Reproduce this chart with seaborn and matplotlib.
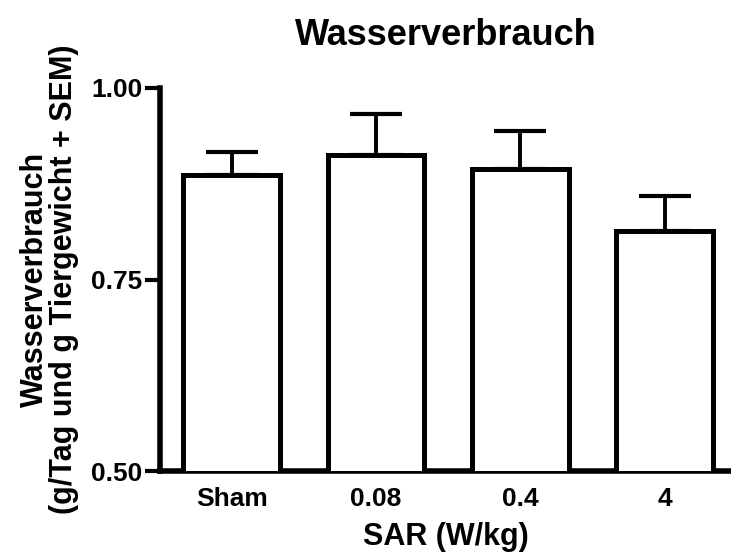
import matplotlib
matplotlib.use("Agg")
import matplotlib.pyplot as plt
import seaborn as sns
import pandas as pd
import numpy as np

categories = ["Sham", "0.08", "0.4", "4"]
means = [0.886, 0.912, 0.894, 0.813]
sems = [0.030, 0.054, 0.050, 0.046]

sns.set_theme(style="ticks")
plt.rcParams['font.family'] = ['Liberation Sans', 'DejaVu Sans']
plt.rcParams['font.weight'] = 'bold'
plt.rcParams['text.color'] = 'black'
plt.rcParams['axes.labelcolor'] = 'black'
plt.rcParams['xtick.color'] = 'black'
plt.rcParams['ytick.color'] = 'black'
plt.rcParams['axes.edgecolor'] = 'black'

df = pd.DataFrame({"SAR": categories, "value": means})

fig = plt.figure(figsize=(7.31, 5.59), dpi=100)
ax = fig.add_axes([0.219, 0.157, 0.781, 0.686])

sns.barplot(data=df, x="SAR", y="value", order=categories, color="white",
            edgecolor="black", linewidth=3.6, width=0.67, errorbar=None, ax=ax,
            saturation=1)
for p in ax.patches:
    p.set_joinstyle("miter")
    p.set_zorder(3)

x = np.arange(len(categories))
ax.errorbar(x, means, yerr=[np.zeros(len(sems)), sems], fmt="none",
            ecolor="black", elinewidth=2.8, capsize=18.5, capthick=3.0, zorder=2)

ax.set_ylim(0.5, 1.0)
ax.set_xlim(-0.497, 3.46)
ax.set_yticks([0.50, 0.75, 1.00])
ax.set_yticklabels(["0.50", "0.75", "1.00"])
ax.tick_params(axis="y", length=11, width=3.0, labelsize=19, pad=1.5,
               color="black", labelcolor="black")
ax.tick_params(axis="x", length=0, labelsize=19, pad=11, labelcolor="black")
for lab in ax.get_xticklabels() + ax.get_yticklabels():
    lab.set_fontweight("bold")

sns.despine(ax=ax)
ax.spines["left"].set_linewidth(4.0)
ax.spines["bottom"].set_linewidth(4.0)
ax.spines["left"].set_color("black")
ax.spines["bottom"].set_color("black")

ax.set_xlabel("SAR (W/kg)", fontsize=22, fontweight="bold", labelpad=8,
              color="black")
ax.set_ylabel("Wasserverbrauch\n(g/Tag und g Tiergewicht + SEM)", fontsize=22,
              fontweight="bold", linespacing=0.95, color="black")
ax.yaxis.set_label_coords(-0.142, 0.5)
ax.set_title("Wasserverbrauch", fontsize=26, fontweight="bold", pad=31,
             color="black")

fig.savefig("out.png", dpi=100, facecolor="white")
